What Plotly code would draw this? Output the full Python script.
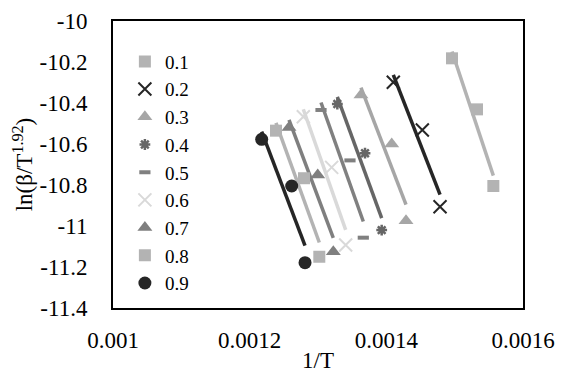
import numpy as np
import plotly.graph_objects as go

# Data
series_names = ["0.1", "0.2", "0.3", "0.4", "0.5", "0.6", "0.7", "0.8", "0.9"]

x_01 = [0.0014961, 0.0015327, 0.0015566]
y_01 = [-10.182, -10.431, -10.805]
x_02 = [0.0014102, 0.0014527, 0.0014786]
y_02 = [-10.299, -10.532, -10.906]
x_03 = [0.0013629, 0.0014079, 0.0014288]
y_03 = [-10.361, -10.600, -10.974]
x_04 = [0.0013283, 0.0013688, 0.0013932]
y_04 = [-10.405, -10.645, -11.020]
x_05 = [0.0013044, 0.0013468, 0.0013663]
y_05 = [-10.434, -10.680, -11.057]
x_06 = [0.0012785, 0.0013200, 0.0013405]
y_06 = [-10.467, -10.714, -11.093]
x_07 = [0.0012576, 0.0012996, 0.0013224]
y_07 = [-10.519, -10.751, -11.125]
x_08 = [0.0012385, 0.0012795, 0.0013019]
y_08 = [-10.535, -10.767, -11.150]
x_09 = [0.0012176, 0.0012615, 0.0012810]
y_09 = [-10.577, -10.805, -11.179]

xs = [x_01, x_02, x_03, x_04, x_05, x_06, x_07, x_08, x_09]
ys = [y_01, y_02, y_03, y_04, y_05, y_06, y_07, y_08, y_09]

x_ticks = [0.001, 0.0012, 0.0014, 0.0016]
x_ticklabels = ["0.001", "0.0012", "0.0014", "0.0016"]
y_ticks = [-10, -10.2, -10.4, -10.6, -10.8, -11, -11.2, -11.4]
y_ticklabels = ["-10", "-10.2", "-10.4", "-10.6", "-10.8", "-11", "-11.2", "-11.4"]

# Styles
colors = ["#b3b3b3", "#262626", "#a6a6a6", "#666666", "#808080",
          "#d9d9d9", "#7f7f7f", "#b3b3b3", "#262626"]
symbols = ["square", "x-thin-open", "triangle-up", "asterisk-open", "line-ew-open",
           "x-thin-open", "triangle-up", "square", "circle"]
sizes = [12, 13, 13, 9, 8, 13, 13, 12, 13]
mlw = [0, 2, 0, 2.5, 4, 2, 0, 0, 0]

FONT = "Liberation Serif"
axis_font = dict(family=FONT, size=23, color="#000000")

fig = go.Figure()

# Linear trendlines (least squares) drawn first
for i in range(len(series_names)):
    x = np.array(xs[i]); y = np.array(ys[i])
    k, b = np.polyfit(x, y, 1)
    xl = np.array([x.min(), x.max()])
    fig.add_trace(go.Scatter(x=xl, y=k * xl + b, mode="lines",
                             line=dict(color=colors[i], width=3.5),
                             showlegend=False, hoverinfo="skip"))

for i, name in enumerate(series_names):
    fig.add_trace(go.Scatter(
        x=xs[i], y=ys[i], mode="markers", name=name,
        marker=dict(symbol=symbols[i], size=sizes[i], color=colors[i],
                    line=dict(color=colors[i], width=mlw[i])),
    ))

fig.update_layout(
    width=561, height=373,
    margin=dict(l=113, r=38, t=21, b=65, autoexpand=False),
    paper_bgcolor="white", plot_bgcolor="white",
    font=axis_font,
    showlegend=True,
    legend=dict(x=0.029, y=0.925, xanchor="left", yanchor="top",
                bgcolor="rgba(0,0,0,0)", font=dict(family=FONT, size=19, color="#000000"),
                tracegroupgap=0, itemwidth=30),
    xaxis=dict(range=[0.001, 0.0016], tickvals=x_ticks, ticktext=x_ticklabels,
               tickfont=axis_font, automargin=False,
               showgrid=False, zeroline=False, showline=True, mirror=True,
               linecolor="#000000", linewidth=2,
               ticks="outside", ticklen=10, tickcolor="rgba(0,0,0,0)",
               title=dict(text="1/T", font=axis_font, standoff=0)),
    yaxis=dict(range=[-11.4, -10], tickvals=y_ticks, ticktext=y_ticklabels,
               tickfont=axis_font, automargin=False,
               showgrid=False, zeroline=False, showline=True, mirror=True,
               linecolor="#000000", linewidth=2,
               ticks="outside", ticklen=19, tickcolor="rgba(0,0,0,0)",
               title=dict(text="ln(β/T<sup>1.92</sup>)", font=axis_font,
                          standoff=0)),
)

fig.write_html("out.html", config={"displayModeBar": False},
               post_script="document.body.style.margin='0';document.body.style.overflow='hidden';")
